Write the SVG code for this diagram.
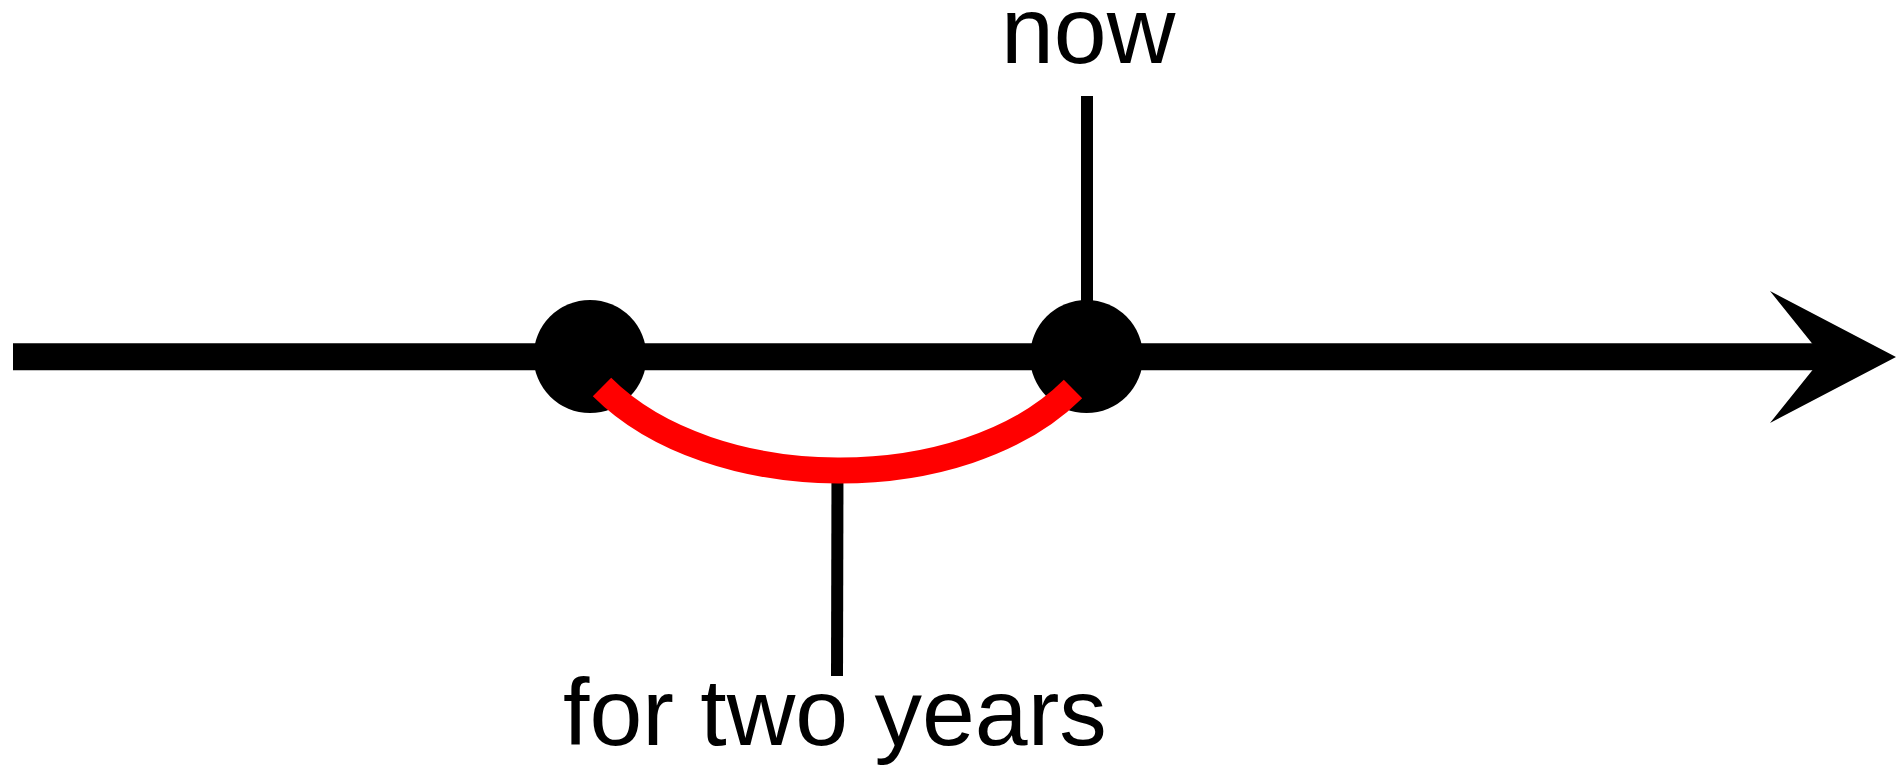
<svg xmlns="http://www.w3.org/2000/svg" width="1896" height="767" viewBox="0 0 1896 767">
<style>
.lbl{font-family:"Liberation Sans",Arial,sans-serif;font-size:95px;fill:#000}
.tick{stroke:#000;stroke-width:12;fill:none}
.dot{fill:#000}
</style>
<rect width="1896" height="767" fill="#fff"/>
<g id="connectors">
<line x1="13" y1="356.8" x2="1830" y2="356.8" stroke="#000" stroke-width="27"/>
<polygon points="1896,357 1770,291 1823,357 1770,423" fill="#000"/>
<line class="tick" x1="1087" y1="96" x2="1087" y2="320"/>
<line class="tick" x1="837.5" y1="470" x2="837" y2="676"/>
</g>
<g id="node-start"><circle class="dot" cx="590" cy="356.5" r="56.5"/></g>
<g id="node-now"><circle class="dot" cx="1086.5" cy="356.5" r="56.5"/></g>
<g id="duration">
<path d="M602,387 C712,497 963,499 1073,389" fill="none" stroke="#ff0000" stroke-width="26"/>
</g>
<g id="label-now"><text class="lbl" x="1001" y="63">now</text></g>
<g id="label-duration"><text class="lbl" x="563" y="745">for two years</text></g>
</svg>
